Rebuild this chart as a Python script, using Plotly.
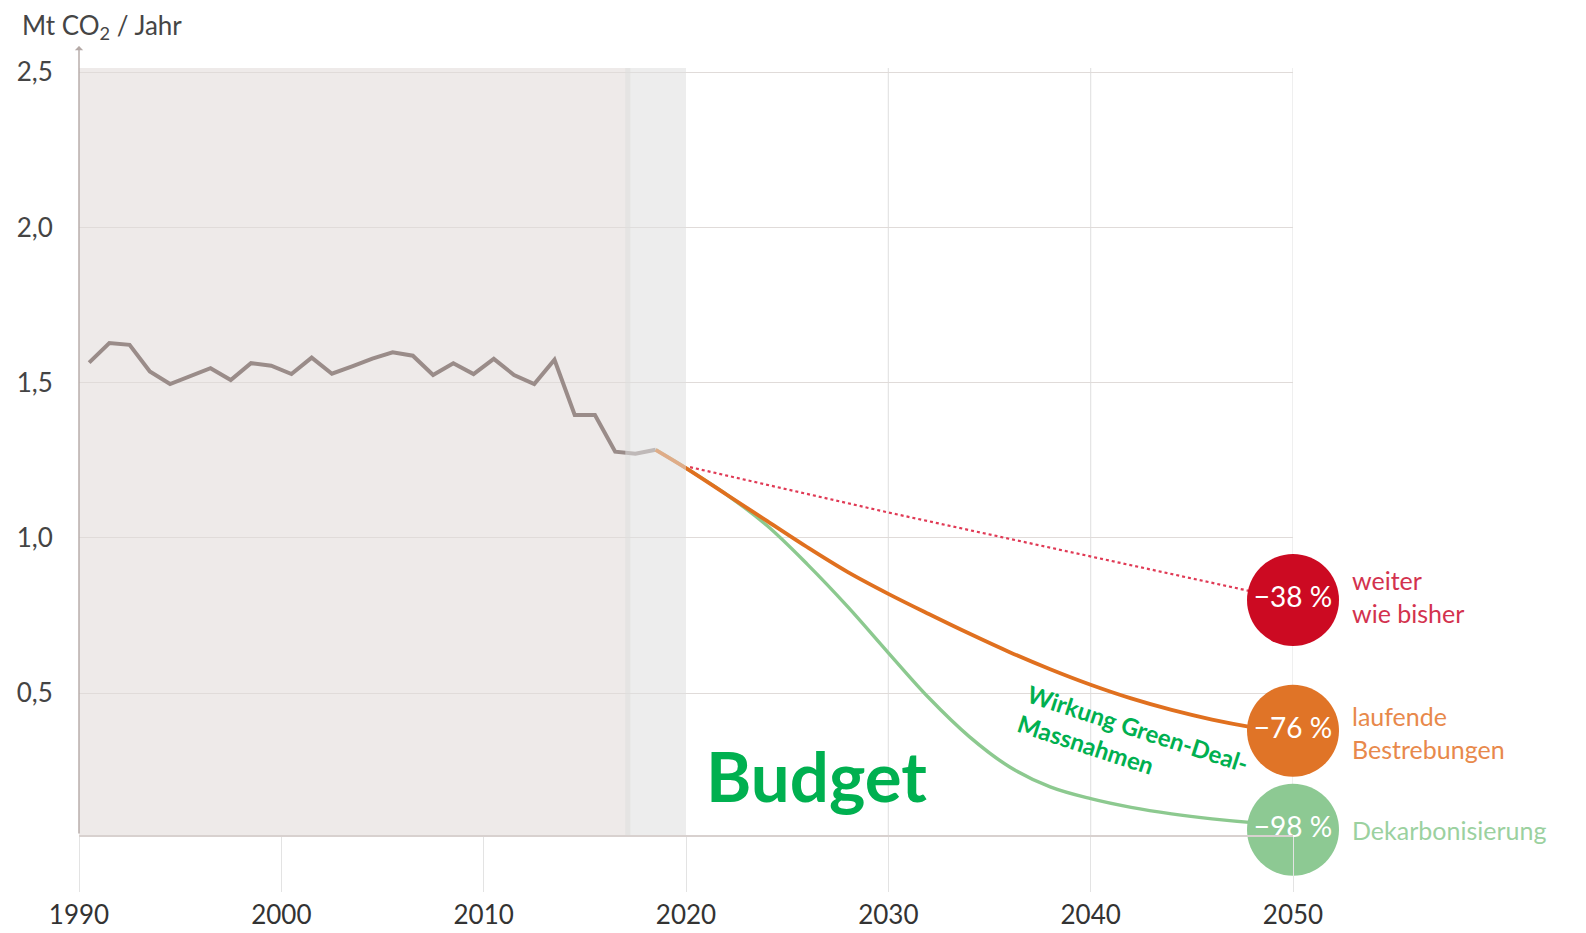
import plotly.graph_objects as go

# ---------------- data ----------------
hist_years = list(range(1990, 2019))
hist_values = [1.565, 1.628, 1.622, 1.536, 1.496, 1.521, 1.547, 1.509, 1.563, 1.555,
               1.528, 1.581, 1.529, 1.553, 1.578, 1.598, 1.587, 1.525, 1.563, 1.528,
               1.577, 1.525, 1.496, 1.574, 1.396, 1.396, 1.278, 1.271, 1.284]

bau_years = [2020.2, 2030, 2048.5]
bau_values = [1.228, 1.082, 0.82]

cur_years = [2018.5, 2020, 2022, 2024, 2026, 2028, 2030, 2032, 2034, 2036, 2038,
             2040, 2042, 2044, 2046, 2048, 2049.3]
cur_values = [1.284, 1.225, 1.14, 1.055, 0.97, 0.89, 0.82, 0.755, 0.692, 0.632, 0.577,
              0.527, 0.483, 0.446, 0.415, 0.39, 0.377]

dek_years = [2018.5, 2020, 2022, 2024, 2026, 2028, 2030, 2032, 2034, 2036, 2038,
             2040, 2042, 2044, 2046, 2048, 2049.3]
dek_values = [1.284, 1.225, 1.14, 1.04, 0.915, 0.778, 0.63, 0.485, 0.36, 0.262, 0.198,
              0.16, 0.132, 0.111, 0.095, 0.083, 0.078]

end_year = 2050
end_values = [0.80, 0.379, 0.06]
end_labels = ["\u221238 %", "\u221276 %", "\u221298 %"]
end_colors = ["#CC0A22", "#E07427", "#8DC993"]
scenario_names = ["weiter<br>wie bisher", "laufende<br>Bestrebungen", "Dekarbonisierung"]
scenario_label_colors = ["#D3324E", "#E8894B", "#9BD19F"]
scenario_label_y = [0.81, 0.374, 0.06]

y_ticks = [0.5, 1.0, 1.5, 2.0, 2.5]
y_ticktext = ["0,5", "1,0", "1,5", "2,0", "2,5"]
x_ticks = [1990, 2000, 2010, 2020, 2030, 2040, 2050]

FONT = "Lato"

fig = go.Figure()

# historical line (plotted at mid-year)
fig.add_trace(go.Scatter(
    x=[y + 0.5 for y in hist_years], y=hist_values, mode="lines",
    line=dict(color="#9A8C89", width=4), hoverinfo="skip", showlegend=False))

# business as usual (dotted)
fig.add_trace(go.Scatter(
    x=bau_years, y=bau_values, mode="lines",
    line=dict(color="#E03A55", width=2.2, dash="dot"), hoverinfo="skip", showlegend=False))

# decarbonisation
fig.add_trace(go.Scatter(
    x=dek_years, y=dek_values, mode="lines", line_shape="spline",
    line=dict(color="#8CC98F", width=3.4), hoverinfo="skip", showlegend=False))

# current efforts
fig.add_trace(go.Scatter(
    x=cur_years, y=cur_values, mode="lines", line_shape="spline",
    line=dict(color="#E0701F", width=3.8), hoverinfo="skip", showlegend=False))

# end circles
fig.add_trace(go.Scatter(
    x=[end_year] * 3, y=end_values, mode="markers+text",
    marker=dict(size=92, color=end_colors, line=dict(width=0)),
    text=end_labels, textposition="middle center",
    textfont=dict(family=FONT, size=28, color="white"),
    cliponaxis=False, hoverinfo="skip", showlegend=False))

shapes = [
    dict(type="rect", xref="x", yref="paper", x0=1990, x1=2017.25, y0=0, y1=1,
         fillcolor="#EEEAE9", line=dict(width=0), layer="below"),
    dict(type="rect", xref="x", yref="paper", x0=2017.0, x1=2020, y0=0, y1=1,
         fillcolor="rgba(222,222,222,0.55)", line=dict(width=0), layer="above"),
]
for xv in [2030, 2040, 2050]:
    shapes.append(dict(type="line", xref="x", yref="paper", x0=xv, x1=xv, y0=0, y1=1,
                       line=dict(color="#E4E4E4", width=1.2), layer="below"))

annotations = [
    dict(text="Mt CO<sub>2</sub> / Jahr", xref="paper", yref="paper",
         x=-0.049, y=1.054, xanchor="left", yanchor="middle", showarrow=False,
         font=dict(family=FONT, size=26, color="#454545")),
    dict(x=1990, y=2.585, ax=1990, ay=0.043, xref="x", yref="y", axref="x", ayref="y",
         showarrow=True, arrowhead=1, arrowsize=1, arrowwidth=1.4, arrowcolor="#B4A9A6",
         text=""),
    dict(text="Budget", x=2026.45, y=0.235, xref="x", yref="y", showarrow=False,
         font=dict(family=FONT, size=69, color="#00B050", weight="bold")),
    dict(text="Wirkung Green-Deal-<br>Massnahmen", x=2042.1, y=0.34, xref="x", yref="y",
         showarrow=False, textangle=18, align="left",
         font=dict(family=FONT, size=24, color="#00B050", weight="bold")),
]
for name, col, yv in zip(scenario_names, scenario_label_colors, scenario_label_y):
    annotations.append(dict(text=name, x=1.047, y=yv, xref="paper", yref="y",
                            xanchor="left", yanchor="middle", align="left",
                            showarrow=False,
                            font=dict(family=FONT, size=25, color=col)))

# the page places the figure 8px from the top-left corner, so the figure is
# sized to fill the remaining window area
fig.update_layout(
    width=1578, height=925,
    margin=dict(l=71, r=293, t=60, b=98),
    paper_bgcolor="white", plot_bgcolor="white",
    shapes=shapes, annotations=annotations,
    xaxis=dict(range=[1990, 2050], tickvals=x_ticks, showgrid=False, zeroline=False,
               automargin=False,
               ticks="outside", ticklen=55, tickwidth=1.2, tickcolor="#E3E3E3",
               ticklabelstandoff=1,
               showline=True, linecolor="#D8D1CF", linewidth=1.5,
               tickfont=dict(family=FONT, size=26, color="#333333")),
    yaxis=dict(range=[0.043, 2.514], tickvals=y_ticks, ticktext=y_ticktext,
               automargin=False,
               showgrid=True, gridcolor="#E0DBD9", gridwidth=1.2, zeroline=False,
               showline=False, ticks="outside", ticklen=20, tickcolor="rgba(0,0,0,0)",
               tickfont=dict(family=FONT, size=26, color="#444444")),
)

fig.write_html("out.html")
